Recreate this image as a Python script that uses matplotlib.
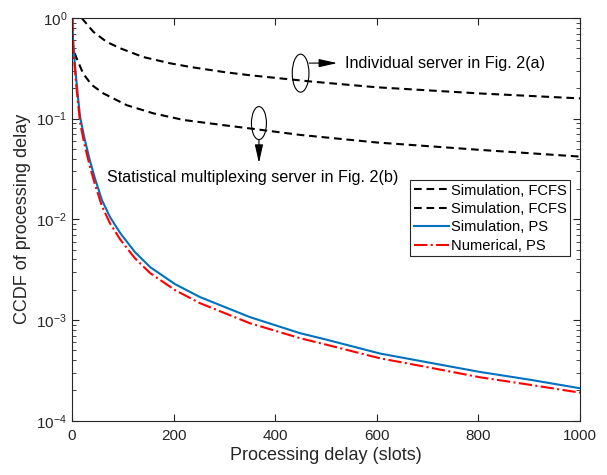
import matplotlib
matplotlib.use("Agg")
import matplotlib.pyplot as plt
from matplotlib.patches import Ellipse
from matplotlib.ticker import LogLocator, NullFormatter, MultipleLocator

plt.rcParams['font.family'] = ['Liberation Sans', 'DejaVu Sans']
plt.rcParams['mathtext.fontset'] = 'custom'
plt.rcParams['mathtext.rm'] = 'Liberation Sans'
plt.rcParams['mathtext.it'] = 'Liberation Sans:italic'

# individual server (FCFS, Fig. 2(a))
x_fcfs_a = [19, 42, 68, 95, 140, 193, 235, 300, 350, 474, 600, 803, 1000]
y_fcfs_a = [1.0, 0.73, 0.58, 0.50, 0.41, 0.355, 0.325, 0.29, 0.27, 0.233, 0.205,
            0.178, 0.159]

# statistical multiplexing server (FCFS, Fig. 2(b))
x_fcfs_b = [5, 9, 22, 39, 62, 108, 160, 220, 300, 350, 449, 600, 803, 1000]
y_fcfs_b = [0.45, 0.40, 0.28, 0.216, 0.178, 0.136, 0.113, 0.097, 0.086, 0.080,
            0.069, 0.058, 0.049, 0.042]

# PS, simulation
x_sim_ps = [0, 2.5, 5, 8, 12, 16, 24, 35, 45, 59, 75, 95, 124, 154, 203, 252,
            350, 449, 500, 606, 700, 803, 900, 1000]
y_sim_ps = [1.0, 0.564, 0.382, 0.259, 0.160, 0.104, 0.0657, 0.0388, 0.0257,
            0.0155, 0.0105, 0.0073, 0.00472, 0.00335, 0.00227, 0.00169, 0.00107,
            7.4e-4, 6.4e-4, 4.65e-4, 3.8e-4, 3.05e-4, 2.56e-4, 2.1e-4]

# PS, numerical
x_num_ps = [1, 2.5, 5, 8, 12, 16, 24, 35, 45, 59, 75, 95, 124, 154, 203, 252,
            350, 449, 500, 606, 700, 803, 900, 1000]
y_num_ps = [1.0, 0.50, 0.34, 0.226, 0.14, 0.091, 0.057, 0.0338, 0.0224, 0.0135,
            0.0091, 0.0063, 0.0041, 0.00292, 0.00198, 0.00147, 9.3e-4, 6.6e-4,
            5.7e-4, 4.17e-4, 3.4e-4, 2.7e-4, 2.28e-4, 1.9e-4]

fig = plt.figure(figsize=(6.07, 4.75), dpi=100)
ax = fig.add_axes([72 / 607, 1 - 420.7 / 475, 508 / 607, 402.7 / 475])

ax.semilogy(x_fcfs_a, y_fcfs_a, '--', dashes=(3.7, 2.3), color='black', lw=1.5,
            label='Simulation, FCFS')
ax.semilogy(x_fcfs_b, y_fcfs_b, '--', dashes=(3.7, 2.3), color='black', lw=1.5,
            label='Simulation, FCFS')
ax.semilogy(x_sim_ps, y_sim_ps, '-', color='#0072BD', lw=1.5, label='Simulation, PS')
ax.semilogy(x_num_ps, y_num_ps, '-.', color='red', lw=1.5, label='Numerical, PS')

ax.set_xlim(0, 1000)
ax.set_ylim(1e-4, 1)
ax.xaxis.set_major_locator(MultipleLocator(200))
ax.yaxis.set_major_locator(LogLocator(base=10, numticks=10))
ax.yaxis.set_minor_locator(LogLocator(base=10, subs=range(2, 10), numticks=10))
ax.yaxis.set_minor_formatter(NullFormatter())

gray = '#262626'
for s in ax.spines.values():
    s.set_color(gray)
    s.set_linewidth(0.8)
ax.tick_params(which='both', direction='in', top=True, right=True, colors=gray,
               labelsize=11, labelcolor=gray)
ax.tick_params(which='major', length=5)
ax.tick_params(which='minor', length=3)
ax.tick_params(axis='x', pad=6)

ax.set_xlabel('Processing delay (slots)', fontsize=13, color=gray, labelpad=3)
ax.set_ylabel('CCDF of processing delay', fontsize=13, color=gray, labelpad=4)

# annotations, placed in axes fractions
ax.add_patch(Ellipse((0.450, 0.863), 16.7 / 508, 38 / 402.7, transform=ax.transAxes,
                     fill=False, ec='black', lw=0.8))
ax.add_patch(Ellipse((0.368, 0.739), 15 / 508, 33 / 402.7, transform=ax.transAxes,
                     fill=False, ec='black', lw=0.8))
arrow = dict(arrowstyle='-|>,head_length=0.8,head_width=0.18', color='black', lw=0.8,
             mutation_scale=14, shrinkA=0, shrinkB=0)
ax.annotate('', xy=(0.522, 0.888), xytext=(0.467, 0.888), xycoords='axes fraction',
            arrowprops=arrow)
ax.text(0.537, 0.888, 'Individual server in Fig. 2(a)', fontsize=11.6, va='center',
        transform=ax.transAxes)
ax.annotate('', xy=(0.368, 0.640), xytext=(0.368, 0.698), xycoords='axes fraction',
            arrowprops=arrow)
ax.text(0.069, 0.603, 'Statistical multiplexing server in Fig. 2(b)', fontsize=11.6,
        va='center', transform=ax.transAxes)

leg = ax.legend(loc='upper left', bbox_to_anchor=(0.665, 0.598), borderaxespad=0,
                fontsize=10.6, handlelength=2.4, handletextpad=0.15, labelspacing=0.3,
                borderpad=0.25, fancybox=False, framealpha=1, edgecolor=gray)
leg.get_frame().set_linewidth(0.8)

fig.savefig('out.png', dpi=100)
